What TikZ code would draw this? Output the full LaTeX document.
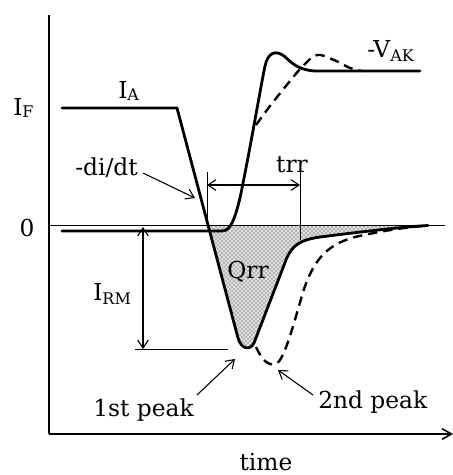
\documentclass[tikz,border=0pt]{standalone}
\usepackage{fontspec}
\setmainfont{DejaVu Serif}
\usetikzlibrary{arrows.meta,patterns}
\newcommand\lsub[2][-2.2pt]{\raisebox{#1}{\fontsize{12}{14}\selectfont #2}}
\begin{document}
\begin{tikzpicture}[x=0.75pt,y=-0.75pt,
  lab/.style={font=\fontsize{17.5}{21}\selectfont, inner sep=0pt},
  curve/.style={line width=2.1pt, line join=round, line cap=round},
  dcurve/.style={line width=1.8pt, dash pattern=on 7pt off 4.5pt},
  thin/.style={line width=0.6pt},
  axis/.style={line width=1.2pt},
  ann/.style={line width=0.8pt, -{Straight Barb[length=6pt,width=8pt]}},
  dann/.style={line width=0.8pt, {Straight Barb[length=6pt,width=8pt]}-{Straight Barb[length=6pt,width=8pt]}}]
\useasboundingbox (0,0) rectangle (453,475);
% shaded Qrr area
\def\qrrpath{(208.2,225.5) -- (238,338) .. controls (241,349) and (250,351) .. (254,343)
  -- (286,260) .. controls (292,245) and (300,240) .. (320,237)
  .. controls (360,232) and (400,227) .. (428,225.5) -- cycle}
\fill[black!12] \qrrpath;
\fill[pattern=crosshatch dots, pattern color=black!85] \qrrpath;
% axes
\coordinate (top) at (49,15);
\coordinate (orig) at (49,434);
\coordinate (xend) at (453,434);
\draw[axis] (top) -- (orig);
\draw[axis, -{Straight Barb[length=7pt,width=8pt]}] (orig) -- (xend);
% zero line
\coordinate (z0) at (49,225.5);
\coordinate (z1) at (445,225.5);
\draw[thin] (z0) -- (z1);
% trr markers
\coordinate (t1a) at (207,172); \coordinate (t1b) at (207,225.5);
\coordinate (t2a) at (300,172); \coordinate (t2b) at (300,240);
\draw[thin] (t1a) -- (t1b);
\draw[thin] (t2a) -- (t2b);
\coordinate (ta) at (207,185); \coordinate (tb) at (300,185);
\draw[dann] (ta) -- (tb);
% IRM markers
\coordinate (ha) at (135,349); \coordinate (hb) at (228,349);
\draw[thin] (ha) -- (hb);
\coordinate (ra) at (143,227); \coordinate (rb) at (143,349);
\draw[dann] (ra) -- (rb);
% current (solid)
\draw[curve] (62,108) -- (177,108) -- (238,338) .. controls (241,349) and (250,351) .. (254,343)
  -- (286,260) .. controls (292,245) and (300,240) .. (320,237)
  .. controls (360,232) and (400,227) .. (428,225.5);
% current (dashed)
\draw[dcurve] (256,347) .. controls (262,360) and (268,366) .. (276,364)
  .. controls (284,360) and (292,330) .. (303,292)
  .. controls (313,262) and (325,245) .. (355,237)
  .. controls (385,230) and (410,227) .. (428,225.5);
% voltage (solid)
\draw[curve] (62,231) -- (222,231) .. controls (231,231) and (235,218) .. (240,198)
  .. controls (250,150) and (261,85) .. (265,66)
  .. controls (268,52) and (276,50) .. (284,56)
  .. controls (292,63) and (298,70) .. (315,71) -- (420,71);
% voltage (dashed)
\draw[dcurve] plot[smooth, tension=0.6] coordinates {(256,125) (270,106) (290,81) (303,66) (317,55) (334,60) (350,68) (362,71)};
% labels
\node[lab, anchor=base west] (IF) at (13,115) {I\lsub{F}};
\node[lab, anchor=base west] (IA) at (118,98) {I\lsub{A}};
\node[lab, anchor=base west] (didt) at (75,175) {-di/dt};
\node[lab, anchor=base] (zero) at (27,236) {0};
\node[lab, anchor=base west] (VAK) at (367,57) {-V\lsub[-3pt]{AK}};
\node[lab, anchor=base] (trr) at (292,172) {trr};
\node[lab, anchor=base] (Qrr) at (248,278) {Qrr};
\node[lab, anchor=base west] (IRM) at (93,300) {I\lsub[-3.5pt]{RM}};
\node[lab, anchor=base west] (p1) at (93,416) {1st peak};
\node[lab, anchor=base west] (p2) at (318,408) {2nd peak};
\node[lab, anchor=base] (time) at (266,470) {time};
% annotation arrows
\coordinate (d1) at (143,173); \coordinate (d2) at (195,198);
\draw[ann] (d1) -- (d2);
\coordinate (a1) at (197,395); \coordinate (a2) at (235,359);
\draw[ann] (a1) -- (a2);
\coordinate (b1) at (313,395); \coordinate (b2) at (278,370);
\draw[ann] (b1) -- (b2);
\end{tikzpicture}
\end{document}
